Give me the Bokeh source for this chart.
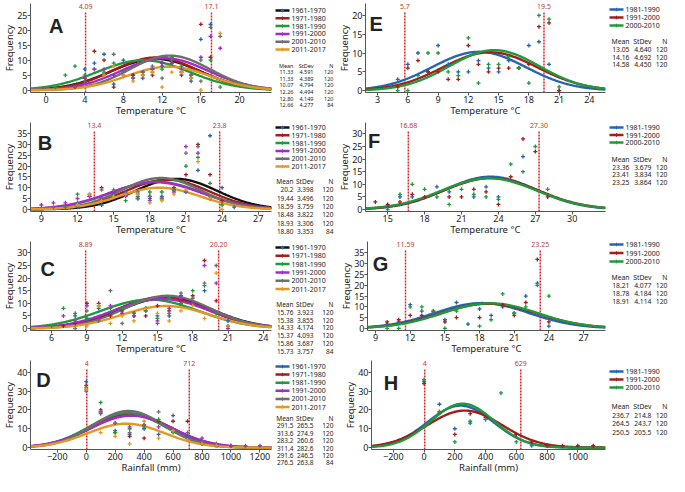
import numpy as np
from bokeh.plotting import figure
from bokeh.layouts import row, column
from bokeh.models import Range1d, Label
from bokeh.embed import file_html
from bokeh.resources import INLINE
from bokeh.core.properties import value

FONT = "Noto Sans"

# ---------------- data ----------------
PERIODS6 = ["1961-1970", "1971-1980", "1981-1990", "1991-2000", "2001-2010", "2011-2017"]
PERIODS3 = ["1981-1990", "1991-2000", "2000-2010"]
TEMP_LABEL = "Temperature °C"
RAIN_LABEL = "Rainfall (mm)"

# Panel A
A_MEAN = ["11.33", "11.33", "10.07", "12.26", "12.80", "12.66"]
A_SD = ["4.591", "4.389", "4.794", "4.494", "4.149", "4.277"]
A_N = [120, 120, 120, 120, 120, 84]
A_LIMITS = ["4.09", "17.1"]
A_XTICKS = [0, 4, 8, 12, 16, 20]
A_YTICKS = [0, 5, 10, 15, 20, 25]
A_P1 = [(4, 7), (5, 9), (6, 12), (7, 2), (8, 10), (9, 5), (10, 4), (11, 7), (12, 8), (13, 9), (14, 6), (15, 3), (16, 17), (17, 22)]
A_P2 = [(3, 1), (4, 4), (5, 13), (6, 10), (7, 1), (8, 6), (9, 5), (10, 5), (11, 5), (12, 9), (13, 10), (14, 5), (15, 4), (16, 22), (17, 11)]
A_P3 = [(1, 1), (2, 5), (3, 8), (4, 5), (5, 7), (6, 5), (7, 9), (8, 6), (9, 4), (10, 6), (11, 6), (12, 7), (13, 11), (14, 8), (15, 5), (16, 10), (17, 10), (18, 1)]
A_P4 = [(4, 4), (5, 7), (6, 7), (7, 5), (8, 5), (9, 4), (10, 6), (11, 7), (12, 9), (13, 9), (14, 7), (15, 5), (16, 11), (17, 18), (18, 14)]
A_P5 = [(3, 1), (4, 3), (6, 6), (7, 12), (8, 6), (9, 4), (10, 6), (11, 8), (12, 4), (13, 10), (14, 6), (15, 5), (16, 3), (17, 21), (18, 18)]
A_P6 = [(4, 1), (5, 2), (6, 5), (7, 8), (8, 5), (9, 3), (10, 5), (11, 6), (12, 1), (13, 6), (14, 6), (15, 4), (16, 0), (18, 19)]

# Panel B
B_MEAN = ["20.2", "19.44", "18.59", "18.48", "18.93", "18.80"]
B_SD = ["3.398", "3.496", "3.759", "3.822", "3.306", "3.353"]
B_N = [120, 120, 120, 120, 120, 84]
B_LIMITS = ["13.4", "23.8"]
B_XTICKS = [9, 12, 15, 18, 21, 24, 27]
B_YTICKS = [0, 5, 10, 15, 20, 25, 30, 35]
B_P1 = [(12, 1), (14, 2), (15, 7), (16, 8), (17, 6), (18, 5), (19, 6), (20, 9), (21, 8), (22, 18), (23, 34), (24, 10), (25, 1)]
B_P2 = [(13, 6), (14, 10), (15, 8), (16, 7), (17, 5), (18, 6), (19, 5), (20, 10), (21, 16), (22, 30), (23, 16), (24, 4)]
B_P3 = [(11, 1), (12, 7), (13, 6), (14, 4), (15, 8), (16, 4), (17, 5), (18, 8), (19, 8), (20, 9), (21, 20), (22, 24), (23, 12), (24, 2)]
B_P4 = [(9, 2), (10, 3), (11, 3), (12, 5), (13, 6), (14, 5), (15, 8), (16, 6), (17, 7), (18, 4), (19, 5), (20, 8), (21, 29), (22, 26), (23, 5)]
B_P5 = [(10, 1), (12, 3), (13, 7), (14, 9), (15, 9), (16, 7), (17, 8), (18, 6), (19, 5), (20, 9), (21, 26), (22, 29), (23, 6)]
B_P6 = [(12, 2), (13, 7), (14, 4), (15, 6), (16, 7), (17, 7), (18, 3), (19, 4), (20, 7), (21, 9), (22, 22), (23, 5), (24, 0)]

# Panel C
C_MEAN = ["15.76", "15.38", "14.33", "15.37", "15.86", "15.73"]
C_SD = ["3.923", "3.855", "4.174", "4.093", "3.687", "3.757"]
C_N = [120, 120, 120, 120, 120, 84]
C_LIMITS = ["8.89", "20.20"]
C_XTICKS = [6, 9, 12, 15, 18, 21, 24]
C_YTICKS = [0, 5, 10, 15, 20, 25, 30]
C_P1 = [(8, 5), (9, 4), (10, 8), (11, 6), (12, 6), (13, 6), (14, 7), (15, 5), (16, 5), (17, 13), (18, 10), (19, 15), (20, 6), (21, 3)]
C_P2 = [(7, 1), (8, 2), (9, 10), (10, 10), (11, 5), (12, 7), (13, 5), (14, 5), (15, 9), (16, 7), (17, 11), (18, 13), (19, 27), (20, 11), (21, 1)]
C_P3 = [(6, 1), (7, 8), (8, 6), (9, 4), (10, 9), (11, 8), (12, 8), (13, 6), (14, 7), (15, 4), (16, 12), (17, 10), (18, 15), (19, 17), (20, 6)]
C_P4 = [(7, 5), (8, 3), (9, 9), (10, 4), (11, 9), (12, 6), (13, 5), (14, 8), (15, 3), (16, 8), (17, 12), (18, 10), (19, 25), (20, 18), (21, 0)]
C_P5 = [(8, 0), (9, 7), (10, 3), (11, 15), (12, 2), (13, 6), (14, 8), (15, 2), (16, 6), (17, 14), (18, 12), (19, 18), (20, 25), (21, 1)]
C_P6 = [(9, 1), (10, 9), (11, 2), (12, 5), (13, 3), (14, 8), (15, 6), (16, 3), (17, 7), (18, 9), (19, 4), (20, 22), (21, 1)]

# Panel D
D_MEAN = ["291.5", "313.6", "283.2", "311.4", "291.6", "276.5"]
D_SD = ["265.5", "274.9", "260.6", "282.6", "246.5", "263.8"]
D_N = [120, 120, 120, 120, 120, 84]
D_LIMITS = ["4", "712"]
D_XTICKS = [-200, 0, 200, 400, 600, 800, 1000, 1200]
D_YTICKS = [0, 10, 20, 30, 40]
D_P1 = [(0, 35), (100, 19), (200, 9), (300, 7), (400, 10), (500, 7), (600, 17), (700, 6), (800, 3), (900, 2), (1000, 1)]
D_P2 = [(0, 33), (100, 20), (200, 8), (300, 6), (400, 5), (500, 14), (600, 14), (700, 14), (800, 2), (900, 1)]
D_P3 = [(0, 32), (100, 24), (200, 8), (300, 10), (400, 11), (500, 15), (600, 8), (700, 5), (800, 2), (900, 1)]
D_P4 = [(0, 30), (100, 18), (200, 13), (300, 11), (400, 12), (500, 11), (600, 10), (700, 5), (800, 5), (900, 1), (1000, 1), (1100, 1), (1200, 1)]
D_P5 = [(0, 31), (100, 19), (200, 13), (300, 8), (400, 12), (500, 19), (600, 9), (700, 8), (800, 3), (900, 2)]
D_P6 = [(0, 31), (100, 8), (200, 6), (300, 2), (400, 14), (500, 5), (600, 9), (700, 4), (800, 2), (900, 1)]

# Panel E
E_MEAN = ["13.05", "14.16", "14.58"]
E_SD = ["4.640", "4.692", "4.450"]
E_N = [120, 120, 120]
E_LIMITS = ["5.7", "19.5"]
E_XTICKS = [3, 6, 9, 12, 15, 18, 21, 24]
E_YTICKS = [0, 5, 10, 15, 20]
E_P1 = [(5, 3), (6, 7), (7, 10), (8, 5), (9, 12), (10, 7), (11, 5), (12, 5), (13, 8), (14, 6), (15, 5), (16, 8), (17, 6), (18, 12), (19, 13), (20, 7), (21, 0)]
E_P2 = [(5, 1), (6, 6), (7, 8), (8, 5), (9, 5), (10, 3), (11, 3), (12, 12), (13, 7), (14, 5), (15, 6), (16, 6), (17, 6), (18, 7), (19, 17), (20, 18), (21, 0)]
E_P3 = [(5, 0), (6, 0), (7, 4), (8, 10), (9, 10), (10, 5), (11, 4), (12, 14), (13, 2), (14, 7), (15, 7), (16, 9), (17, 6), (18, 2), (19, 20), (20, 19), (21, 1)]

# Panel F
F_MEAN = ["23.36", "23.41", "23.25"]
F_SD = ["3.679", "3.834", "3.864"]
F_N = [120, 120, 120]
F_LIMITS = ["16.68", "27.30"]
F_XTICKS = [15, 18, 21, 24, 27, 30]
F_YTICKS = [0, 5, 10, 15, 20, 25, 30]
F_P1 = [(15, 1), (16, 5), (17, 5), (19, 9), (20, 7), (22, 5), (23, 9), (24, 5), (26, 21)]
F_P2 = [(14, 3), (15, 2), (16, 3), (17, 6), (18, 5), (20, 5), (21, 5), (22, 8), (23, 7), (24, 2), (25, 13), (26, 28), (27, 23), (28, 5)]
F_P3 = [(15, 0), (16, 6), (17, 10), (18, 8), (19, 5), (20, 2), (21, 8), (22, 6), (23, 5), (24, 4), (25, 18), (26, 15), (27, 25), (28, 8)]

# Panel G
G_MEAN = ["18.21", "18.78", "18.91"]
G_SD = ["4.077", "4.184", "4.114"]
G_N = [120, 120, 120]
G_LIMITS = ["11.59", "23.25"]
G_XTICKS = [9, 12, 15, 18, 21, 24, 27]
G_YTICKS = [0, 5, 10, 15, 20, 25, 30, 35]
G_P1 = [(10, 2), (11, 3), (12, 11), (13, 8), (14, 7), (15, 4), (16, 12), (17, 2), (18, 9), (19, 6), (20, 10), (21, 7), (22, 15), (23, 21), (24, 1)]
G_P2 = [(10, 3), (11, 4), (12, 6), (13, 6), (14, 8), (15, 3), (16, 5), (18, 5), (20, 11), (21, 6), (22, 12), (23, 32), (24, 3)]
G_P3 = [(10, 0), (11, 0), (12, 10), (13, 10), (14, 8), (15, 0), (16, 8), (18, 1), (19, 4), (20, 16), (21, 7), (22, 10), (23, 20), (24, 15)]

# Panel H
H_MEAN = ["236.7", "264.5", "250.5"]
H_SD = ["214.8", "243.7", "205.5"]
H_N = [120, 120, 120]
H_LIMITS = ["4", "629"]
H_XTICKS = [-200, 0, 200, 400, 600, 800, 1000]
H_YTICKS = [0, 10, 20, 30, 40]
H_P1 = [(0, 35), (100, 23), (200, 10), (300, 13), (400, 15), (600, 7), (700, 2)]
H_P2 = [(0, 34), (100, 19), (200, 7), (300, 18), (400, 16), (600, 7), (700, 3), (800, 1), (900, 1), (1000, 1), (1100, 1)]
H_P3 = [(0, 36), (100, 19), (200, 3), (300, 14), (400, 15), (500, 29), (600, 3), (700, 1)]

# ---------------- styles ----------------
BLACK, RED, GREEN, PURPLE, GRAY, ORANGE, BLUE = "#111111", "#a51c1c", "#1f9a3a", "#a52ac8", "#6e6e6e", "#e3981f", "#2464b4"
CURVE6 = [BLACK, RED, GREEN, PURPLE, GRAY, ORANGE]
CURVE6D = [BLUE, RED, GREEN, PURPLE, GRAY, ORANGE]
POINT6 = [BLUE, RED, GREEN, PURPLE, GRAY, ORANGE]
COL3 = [BLUE, RED, GREEN]
LIMIT_COLOR = "#d8262b"

ROW_H = 119
TOP_BORDER = 3
FRAME_EST = 90          # approx. frame height in px, used to reserve room for the limit labels
LABEL_ROOM = 9          # px reserved above the data area for the red limit labels
LEFT_W, LEFT_SIDE = 335, 61
RIGHT_W, RIGHT_SIDE = 334, 61

PANELS = {
    "A": dict(per=PERIODS6, mean=A_MEAN, sd=A_SD, n=A_N, pts=[A_P1, A_P2, A_P3, A_P4, A_P5, A_P6], lim=A_LIMITS,
              xr=(-1.6, 23.3), yr=(-0.8, 26.0), xt=A_XTICKS, yt=A_YTICKS, xl=TEMP_LABEL, bw=1,
              cc=CURVE6, pc=POINT6, lxy=(0.3, 25.0), bl=23, leg=(10, 7.8), head=(65, 6.6), sf=5.5,
              cols=(19, 39, 59)),
    "B": dict(per=PERIODS6, mean=B_MEAN, sd=B_SD, n=B_N, pts=[B_P1, B_P2, B_P3, B_P4, B_P5, B_P6], lim=B_LIMITS,
              xr=(8.1, 28.1), yr=(-1.0, 36.0), xt=B_XTICKS, yt=B_YTICKS, xl=TEMP_LABEL, bw=1,
              cc=CURVE6, pc=POINT6, lxy=(8.7, 35.5), bl=23, leg=(8, 7.8), head=(62, 8.3), sf=6.5,
              cols=(19, 39, 59)),
    "C": dict(per=PERIODS6, mean=C_MEAN, sd=C_SD, n=C_N, pts=[C_P1, C_P2, C_P3, C_P4, C_P5, C_P6], lim=C_LIMITS,
              xr=(4.2, 24.7), yr=(-0.8, 31.0), xt=C_XTICKS, yt=C_YTICKS, xl=TEMP_LABEL, bw=1,
              cc=CURVE6, pc=POINT6, lxy=(5.05, 28.0), bl=23, leg=(9, 8.3), head=(66, 7.8), sf=6.5,
              cols=(19, 39, 59)),
    "D": dict(per=PERIODS6, mean=D_MEAN, sd=D_SD, n=D_N, pts=[D_P1, D_P2, D_P3, D_P4, D_P5, D_P6], lim=D_LIMITS,
              xr=(-385, 1280), yr=(-1.0, 41.5), xt=D_XTICKS, yt=D_YTICKS, xl=RAIN_LABEL, bw=100,
              cc=CURVE6D, pc=POINT6, lxy=(-345, 41.5), bl=23, leg=(9, 8.1), head=(61, 7.4), sf=6.5,
              cols=(19, 39, 59)),
    "E": dict(per=PERIODS3, mean=E_MEAN, sd=E_SD, n=E_N, pts=[E_P1, E_P2, E_P3], lim=E_LIMITS,
              xr=(1.8, 25.6), yr=(-0.5, 20.8), xt=E_XTICKS, yt=E_YTICKS, xl=TEMP_LABEL, bw=1,
              cc=COL3, pc=COL3, lxy=(2.2, 20.6), bl=27, leg=(9, 8.0), head=(41, 7.8), sf=6.8,
              cols=(21, 43, 59)),
    "F": dict(per=PERIODS3, mean=F_MEAN, sd=F_SD, n=F_N, pts=[F_P1, F_P2, F_P3], lim=F_LIMITS,
              xr=(13.2, 32.7), yr=(-0.8, 31.0), xt=F_XTICKS, yt=F_YTICKS, xl=TEMP_LABEL, bw=1,
              cc=COL3, pc=COL3, lxy=(13.4, 31.5), bl=29, leg=(8, 7.5), head=(40, 7.5), sf=6.8,
              cols=(21, 43, 59)),
    "G": dict(per=PERIODS3, mean=G_MEAN, sd=G_SD, n=G_N, pts=[G_P1, G_P2, G_P3], lim=G_LIMITS,
              xr=(8.3, 28.9), yr=(-1.0, 36.2), xt=G_XTICKS, yt=G_YTICKS, xl=TEMP_LABEL, bw=1,
              cc=COL3, pc=COL3, lxy=(8.75, 35.0), bl=32, leg=(6, 8.5), head=(39, 8.0), sf=6.8,
              cols=(21, 43, 59)),
    "H": dict(per=PERIODS3, mean=H_MEAN, sd=H_SD, n=H_N, pts=[H_P1, H_P2, H_P3], lim=H_LIMITS,
              xr=(-342, 1180), yr=(-1.0, 41.5), xt=H_XTICKS, yt=H_YTICKS, xl=RAIN_LABEL, bw=100,
              cc=COL3, pc=COL3, lxy=(-262, 40.0), bl=36, leg=(14, 8.0), head=(49, 8.5), sf=6.8,
              cols=(21, 43, 59)),
}


def style_axis(ax):
    ax.axis_line_color = "#555555"
    ax.major_tick_line_color = "#555555"
    ax.minor_tick_line_color = None
    ax.major_tick_out = 3
    ax.major_tick_in = 0
    ax.major_label_text_font = FONT
    ax.major_label_text_font_size = "9px"
    ax.major_label_text_color = "#222222"
    ax.axis_label_text_font = FONT
    ax.axis_label_text_font_size = "9.5px"
    ax.axis_label_text_font_style = "normal"
    ax.axis_label_text_color = "#222222"
    ax.major_label_standoff = 0
    ax.axis_label_standoff = -2


def main_fig(key, c, w):
    y0, y1 = c["yr"]
    ext = (y1 - y0) * LABEL_ROOM / (FRAME_EST - LABEL_ROOM)
    ytop = y1 + ext
    p = figure(width=w, height=ROW_H, x_range=Range1d(*c["xr"]), y_range=Range1d(y0, ytop),
               output_backend="svg", toolbar_location=None,
               min_border_left=c["bl"], min_border_right=3, min_border_top=TOP_BORDER, min_border_bottom=0)
    p.frame_align = False
    p.grid.visible = False
    p.outline_line_color = None
    style_axis(p.xaxis[0])
    style_axis(p.yaxis[0])
    p.xaxis.ticker = c["xt"]
    p.yaxis.ticker = c["yt"]
    p.xaxis.axis_label = c["xl"]
    p.yaxis.axis_label = "Frequency"

    # red limit lines with their labels on top
    lims = [float(v) for v in c["lim"]]
    p.segment(x0=lims, y0=[y0] * len(lims), x1=lims, y1=[y1 + ext * 0.1] * len(lims),
              line_color=LIMIT_COLOR, line_dash="2 1", line_width=1.5)
    p.text(x=lims, y=[ytop] * len(lims), text=c["lim"], text_align="center", text_baseline="top",
           text_font=value(FONT), text_font_size="7px", text_color="#c0392b")

    xs = np.linspace(c["xr"][0], c["xr"][1], 300)
    for m, s, n, col in zip(c["mean"], c["sd"], c["n"], c["cc"]):
        m, s = float(m), float(s)
        ys = n * c["bw"] / (s * np.sqrt(2 * np.pi)) * np.exp(-0.5 * ((xs - m) / s) ** 2)
        p.line(xs, ys, line_color=col, line_width=2.4)
    for pts, col in zip(c["pts"], c["pc"]):
        p.scatter([q[0] for q in pts], [q[1] for q in pts], marker="cross", size=4, line_width=1.3, color=col)

    p.add_layout(Label(x=c["lxy"][0], y=c["lxy"][1], text=key, text_align="left", text_baseline="top",
                       text_font="Liberation Sans", text_font_style="bold", text_font_size="20px",
                       text_color="#222222"))
    return p


def side_fig(c, w):
    s = figure(width=w, height=ROW_H, x_range=Range1d(0, w), y_range=Range1d(ROW_H, 0),
               output_backend="svg", toolbar_location=None, x_axis_type=None, y_axis_type=None,
               min_border=0)
    s.frame_align = False
    s.grid.visible = False
    s.outline_line_color = None
    k = len(c["per"])
    y0, dy = c["leg"]
    ly = [y0 + i * dy for i in range(k)]
    s.segment(x0=[1] * k, y0=ly, x1=[15] * k, y1=ly, line_color=c["cc"], line_width=2.5)
    s.scatter(x=[8] * k, y=ly, marker="cross", size=3.5, line_width=1.2, color=c["pc"])
    s.text(x=[17] * k, y=ly, text=c["per"], text_font=value(FONT), text_font_size="7px",
           text_baseline="middle", text_color="#222222")
    hy, rdy = c["head"]
    fs = "%gpx" % c["sf"]
    cx_mean, cx_sd, cx_n = c["cols"]
    cols = [(cx_mean, c["mean"], "Mean"), (cx_sd, c["sd"], "StDev"), (cx_n, [str(v) for v in c["n"]], "N")]
    for cx, vals, hdr in cols:
        s.text(x=[cx], y=[hy], text=[hdr], text_font=value(FONT), text_font_size=fs,
               text_align="right", text_baseline="middle", text_color="#222222")
        s.text(x=[cx] * k, y=[hy + (i + 1) * rdy for i in range(k)], text=vals, text_font=value(FONT),
               text_font_size=fs, text_align="right", text_baseline="middle", text_color="#222222")
    return s


rows = []
for lk, rk in [("A", "E"), ("B", "F"), ("C", "G"), ("D", "H")]:
    lc, rc = PANELS[lk], PANELS[rk]
    rows.append(row(main_fig(lk, lc, LEFT_W - LEFT_SIDE), side_fig(lc, LEFT_SIDE),
                    main_fig(rk, rc, RIGHT_W - RIGHT_SIDE), side_fig(rc, RIGHT_SIDE)))

layout = column(*rows)
open("out.html", "w").write(file_html(layout, INLINE))
